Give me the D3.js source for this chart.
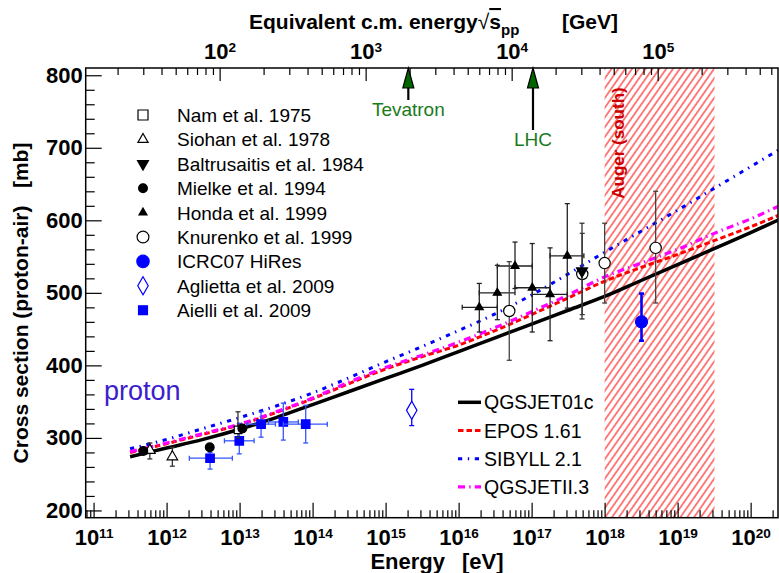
<!DOCTYPE html>
<html>
<head>
<meta charset="utf-8">
<script src="https://cdn.jsdelivr.net/npm/d3@7"></script>
<style>
body { margin: 0; background: #fff; }
svg { display: block; font-family: "Liberation Sans", Arial, Helvetica, sans-serif; }
</style>
</head>
<body>
<svg id="chart" width="779" height="573"></svg>
<script>
// energies in eV, cross sections in mb
var namE = [9.5e12], namS = [311], namLo = [300], namHi = [336];
var siohanE = [5.9e11, 1.2e12], siohanS = [283, 274], siohanLo = [271, 261], siohanHi = [293, 287];
var baltE = [4.9e17], baltS = [530], baltLo = [464], baltHi = [596];
var mielkeE = [4.8e11, 3.9e12, 1.09e13], mielkeS = [282, 287, 313], mielkeLo = [278, 283, 308], mielkeHi = [286, 291, 318];
var hondaE = [1.92e16, 3.39e16, 5.92e16, 1.02e17, 1.79e17, 3.08e17];
var hondaS = [480, 500, 537, 507, 498, 551];
var hondaLo = [446, 463, 506, 446, 434, 479];
var hondaHi = [513, 538, 570, 568, 562, 623];
var hondaELo = [1.12e16, 1.92e16, 3.39e16, 5.92e16, 1.02e17, 1.79e17];
var hondaEHi = [3.39e16, 5.92e16, 1.02e17, 1.79e17, 3.08e17, 5.2e17];
var knurE = [4.94e16, 4.94e17, 1.0e18, 5.0e18], knurS = [475, 526, 541, 562];
var knurLo = [407, 470, 486, 486], knurHi = [543, 582, 596, 640];
var hiresE = [3.2e18], hiresS = [460], hiresLo = [434], hiresHi = [499];
var agliE = [2.28e15], agliS = [338], agliLo = [317], agliHi = [367];
var aielliE = [3.94e12, 9.9e12, 1.97e13, 3.97e13, 8.05e13];
var aielliS = [272, 296, 319, 322, 319];
var aielliLo = [257, 278, 301, 297, 293];
var aielliHi = [280, 320, 336, 348, 345];
var aielliELo = [2.05e12, 6.2e12, 1.25e13, 2.48e13, 3.97e13];
var aielliEHi = [7.96e12, 1.58e13, 3.1e13, 6.38e13, 1.59e14];

// model predictions, log10(E/eV)
var modelLogE = [11.5, 12, 12.5, 13, 13.5, 14, 14.5, 15, 15.5, 16, 16.5, 17, 17.5, 18, 18.5, 19, 19.5, 20, 20.5];
var qgsjet01 = [274, 286, 298, 312, 328, 346, 364, 382, 400, 419, 438, 457, 476, 495, 517, 539, 561, 583, 606];
var epos = [280, 292, 305, 318, 335, 354, 375, 395, 412, 428, 448, 470, 493, 516, 535, 553, 572, 591, 612];
var sibyll = [285, 298, 313, 328, 344, 362, 383, 405, 426, 448, 471, 497, 526, 556, 585, 614, 644, 674, 704];
var qgsjet2 = [281, 293, 306, 319, 336, 355, 377, 397, 414, 432, 452, 474, 497, 522, 541, 560, 582, 602, 625];

var augerRange = [1e18, 3.2e19];
var accelNames = ["Tevatron", "LHC"], accelSqrtS = [1960, 14000];
var yMajor = [200, 300, 400, 500, 600, 700, 800];

var svg = d3.select("#chart");
var L = 85.7, R = 778, T = 68, B = 517.7;

var x = d3.scaleLog().domain([7.8e10, 2.37e20]).range([L, R]);
var y = d3.scaleLinear().domain([190, 810]).range([B, T]);
function sqrtS(e) { return Math.sqrt(2 * 0.938272 * e / 1e9); }
var xTop = d3.scaleLog().domain(x.domain().map(sqrtS)).range([L, R]);

var defs = svg.append("defs");
defs.append("clipPath").attr("id", "plotclip")
    .append("rect").attr("x", L).attr("y", T).attr("width", R - L).attr("height", B - T);
var pat = defs.append("pattern").attr("id", "hatch")
    .attr("patternUnits", "userSpaceOnUse")
    .attr("width", 5.6).attr("height", 10)
    .attr("patternTransform", "rotate(35)");
pat.append("line").attr("x1", 2.8).attr("x2", 2.8).attr("y1", 0).attr("y2", 10)
    .attr("stroke", "#ff0000").attr("stroke-width", 1);

var plot = svg.append("g").attr("clip-path", "url(#plotclip)");

// Auger band
plot.append("rect")
    .attr("x", x(augerRange[0])).attr("y", T)
    .attr("width", x(augerRange[1]) - x(augerRange[0]))
    .attr("height", B - T)
    .attr("fill", "url(#hatch)");
svg.append("text")
    .attr("transform", "translate(" + (x(augerRange[0]) + 19) + ",143) rotate(-90)")
    .attr("text-anchor", "middle")
    .attr("font-size", 17)
    .attr("font-weight", "bold")
    .attr("fill", "#cc0000")
    .text("Auger (south)");

// models
var models = [
    {name: "QGSJET01c", v: qgsjet01, color: "#000000", dash: null, w: 3.5},
    {name: "EPOS 1.61", v: epos, color: "#ff0000", dash: "5.5,3", w: 3},
    {name: "SIBYLL 2.1", v: sibyll, color: "#0000ff", dash: "4.2,5.6,1.4,5.6", w: 3},
    {name: "QGSJETII.3", v: qgsjet2, color: "#ff00ff", dash: "7,4.2,1.4,4.2", w: 3.2}
];
var line = d3.line()
    .x(function(d) { return x(Math.pow(10, d[0])); })
    .y(function(d) { return y(d[1]); })
    .curve(d3.curveMonotoneX);

// draw order: sibyll, epos, qgsjetII, qgsjet01
[2, 1, 3, 0].forEach(function(i) {
    var m = models[i];
    plot.append("path")
        .datum(modelLogE.map(function(l, k) { return [l, m.v[k]]; }))
        .attr("d", line)
        .attr("fill", "none")
        .attr("stroke", m.color)
        .attr("stroke-width", m.w)
        .attr("stroke-dasharray", m.dash);
});

// data sets
function rows(E, S, lo, hi, eLo, eHi) {
    return E.map(function(e, i) {
        return {e: e, s: S[i], lo: lo[i], hi: hi[i],
            elo: eLo ? eLo[i] : null, ehi: eHi ? eHi[i] : null};
    });
}
var sets = [
    {label: "Nam et al. 1975", d: rows(namE, namS, namLo, namHi), sym: d3.symbolSquare, size: 56, lsize: 100, fill: "#fff", stroke: "#000", err: "#333", ew: 1.3},
    {label: "Siohan et al. 1978", d: rows(siohanE, siohanS, siohanLo, siohanHi), sym: d3.symbolTriangle, size: 48, lsize: 45, fill: "#fff", stroke: "#000", err: "#333", ew: 1.3},
    {label: "Baltrusaitis et al. 1984", d: rows(baltE, baltS, baltLo, baltHi), sym: d3.symbolTriangle, size: 52, lsize: 52, fill: "#000", stroke: "#000", rot: 180, err: "#333", ew: 1.3},
    {label: "Mielke et al. 1994", d: rows(mielkeE, mielkeS, mielkeLo, mielkeHi), sym: d3.symbolCircle, size: 60, lsize: 60, fill: "#000", stroke: "#000", err: "#333", ew: 1.3},
    {label: "Honda et al. 1999", d: rows(hondaE, hondaS, hondaLo, hondaHi, hondaELo, hondaEHi), sym: d3.symbolTriangle, size: 28, lsize: 28, fill: "#000", stroke: "#000", err: "#222", ew: 1.3},
    {label: "Knurenko et al. 1999", d: rows(knurE, knurS, knurLo, knurHi), sym: d3.symbolCircle, size: 100, lsize: 110, fill: "#fff", stroke: "#000", err: "#444", ew: 1.3},
    {label: "ICRC07 HiRes", d: rows(hiresE, hiresS, hiresLo, hiresHi), sym: d3.symbolCircle, size: 115, lsize: 120, fill: "#0000ff", stroke: "#0000ff", err: "#0000ff", ew: 2.6},
    {label: "Aglietta et al. 2009", d: rows(agliE, agliS, agliLo, agliHi), sym: d3.symbolDiamond, size: 95, lsize: 95, fill: "#fff", stroke: "#0000ff", err: "#0000ff", ew: 1.3},
    {label: "Aielli et al. 2009", d: rows(aielliE, aielliS, aielliLo, aielliHi, aielliELo, aielliEHi), sym: d3.symbolSquare, size: 72, lsize: 80, fill: "#0000ff", stroke: "#0000ff", err: "#3355ff", ew: 1.3}
];

var drawOrder = [8, 7, 0, 1, 3, 4, 5, 2, 6];
var cap = 2.5;
drawOrder.forEach(function(si) {
    var s = sets[si];
    var g = svg.append("g");
    s.d.forEach(function(p) {
        var px = x(p.e), py = y(p.s);
        var eg = g.append("g").attr("stroke", s.err).attr("stroke-width", s.ew);
        eg.append("line").attr("x1", px).attr("x2", px).attr("y1", y(p.hi)).attr("y2", y(p.lo));
        eg.append("line").attr("x1", px - cap).attr("x2", px + cap).attr("y1", y(p.hi)).attr("y2", y(p.hi));
        eg.append("line").attr("x1", px - cap).attr("x2", px + cap).attr("y1", y(p.lo)).attr("y2", y(p.lo));
        if (p.elo) {
            eg.append("line").attr("x1", x(p.elo)).attr("x2", x(p.ehi)).attr("y1", py).attr("y2", py);
            eg.append("line").attr("x1", x(p.elo)).attr("x2", x(p.elo)).attr("y1", py - cap).attr("y2", py + cap);
            eg.append("line").attr("x1", x(p.ehi)).attr("x2", x(p.ehi)).attr("y1", py - cap).attr("y2", py + cap);
        }
        g.append("path")
            .attr("d", d3.symbol().type(s.sym).size(s.size))
            .attr("transform", "translate(" + px + "," + py + ")" + (s.rot ? " rotate(" + s.rot + ")" : ""))
            .attr("fill", s.fill).attr("stroke", s.stroke).attr("stroke-width", 1.2);
    });
});

// accelerator arrows
accelNames.forEach(function(n, i) {
    var ax = xTop(accelSqrtS[i]);
    var yEnd = i === 0 ? 100 : 130;
    svg.append("line").attr("x1", ax).attr("x2", ax).attr("y1", T + 10).attr("y2", yEnd)
        .attr("stroke", "#000").attr("stroke-width", 2.2);
    svg.append("path")
        .attr("d", "M" + ax + "," + T + "L" + (ax + 5.5) + "," + (T + 20) + "L" + (ax - 5.5) + "," + (T + 20) + "Z")
        .attr("fill", "#006600").attr("stroke", "#000").attr("stroke-width", 1.2);
    svg.append("text")
        .attr("x", ax).attr("y", yEnd + 16)
        .attr("text-anchor", "middle")
        .attr("font-size", 19)
        .attr("fill", "#1a7a1a")
        .text(n);
});

// axes
function pow10Label(sel) {
    sel.each(function(d) {
        var t = d3.select(this);
        var e = Math.round(Math.log10(d));
        t.text(null);
        t.append("tspan").text("10");
        t.append("tspan").attr("dy", "-0.5em").attr("font-size", "0.62em").text(e);
    });
}
function styleAxis(g) {
    g.attr("font-family", null).attr("font-size", 22).attr("font-weight", "bold");
    g.select(".domain").remove();
    g.selectAll(".tick line").attr("stroke", "#000").attr("stroke-width", 1.2);
    g.selectAll(".tick text").attr("fill", "#000");
}

var bottomMajor = x.ticks(20).filter(function(v) { return Math.abs(Math.log10(v) - Math.round(Math.log10(v))) < 1e-6; });
var bottomMinor = x.ticks(20).filter(function(v) { return bottomMajor.indexOf(v) < 0; });
svg.append("g").attr("transform", "translate(0," + B + ")")
    .call(d3.axisBottom(x).tickValues(bottomMinor).tickSize(-7.5).tickFormat(""))
    .call(styleAxis);
svg.append("g").attr("transform", "translate(0," + B + ")")
    .call(d3.axisBottom(x).tickValues(bottomMajor).tickSize(-15).tickPadding(12))
    .call(styleAxis)
    .selectAll(".tick text").call(pow10Label);

var topAll = xTop.ticks();
var topMajor = topAll.filter(function(v) { return Math.abs(Math.log10(v) - Math.round(Math.log10(v))) < 1e-6; });
var topMinor = topAll.filter(function(v) { return topMajor.indexOf(v) < 0; });
svg.append("g").attr("transform", "translate(0," + T + ")")
    .call(d3.axisTop(xTop).tickValues(topMinor).tickSize(-7).tickFormat(""))
    .call(styleAxis);
svg.append("g").attr("transform", "translate(0," + T + ")")
    .call(d3.axisTop(xTop).tickValues(topMajor).tickSize(-13).tickPadding(9))
    .call(styleAxis)
    .selectAll(".tick text").call(pow10Label);

var yMinor = d3.range(200, 801, 20).filter(function(v) { return yMajor.indexOf(v) < 0; });
svg.append("g").attr("transform", "translate(" + L + ",0)")
    .call(d3.axisLeft(y).tickValues(yMinor).tickSize(-9).tickFormat(""))
    .call(styleAxis);
svg.append("g").attr("transform", "translate(" + L + ",0)")
    .call(d3.axisLeft(y).tickValues(yMajor).tickSize(-16).tickPadding(3).tickFormat(d3.format("d")))
    .call(styleAxis);

// frame
svg.append("rect").attr("x", L).attr("y", T).attr("width", R - L).attr("height", B - T)
    .attr("fill", "none").attr("stroke", "#000").attr("stroke-width", 1.5);

// titles
svg.append("text").attr("x", 445).attr("y", 569).attr("text-anchor", "end")
    .attr("font-size", 22).attr("font-weight", "bold").text("Energy");
svg.append("text").attr("x", 462).attr("y", 569)
    .attr("font-size", 22).attr("font-weight", "bold").text("[eV]");

svg.append("text")
    .attr("transform", "translate(28,303) rotate(-90)")
    .attr("text-anchor", "middle")
    .attr("font-size", 21).attr("font-weight", "bold")
    .style("white-space", "pre")
    .text("Cross section (proton-air)   [mb]");

var tt = svg.append("text").attr("x", 249).attr("y", 29)
    .attr("font-size", 21).attr("font-weight", "bold");
tt.append("tspan").text("Equivalent c.m. energy");
tt.append("tspan").attr("font-weight", "normal").text("\u221A");
tt.append("tspan").style("text-decoration", "overline").text("s");
tt.append("tspan").attr("dy", 6).attr("font-size", 15).text("pp");
tt.append("tspan").attr("x", 562).attr("dy", -6).text("[GeV]");

svg.append("text").attr("x", 104).attr("y", 400)
    .attr("font-size", 27).attr("fill", "#3a20cc").text("proton");

// data legend
var leg = svg.append("g");
sets.forEach(function(s, i) {
    var ly = 115 + i * 24.4;
    leg.append("path")
        .attr("d", d3.symbol().type(s.sym).size(s.lsize))
        .attr("transform", "translate(143," + ly + ")" + (s.rot ? " rotate(" + s.rot + ")" : ""))
        .attr("fill", s.fill === "#fff" ? "none" : s.fill)
        .attr("stroke", s.stroke).attr("stroke-width", 1.2);
    leg.append("text").attr("x", 177).attr("y", ly + 7)
        .attr("font-size", 19).text(s.label);
});

// model legend
models.forEach(function(m, i) {
    var ly = 402.3 + i * 28.2;
    leg.append("line").attr("x1", 458).attr("x2", 481).attr("y1", ly).attr("y2", ly)
        .attr("stroke", m.color).attr("stroke-width", m.w).attr("stroke-dasharray", m.dash);
    leg.append("text").attr("x", 484).attr("y", ly + 7)
        .attr("font-size", 19.5).text(m.name);
});
</script>
</body>
</html>
